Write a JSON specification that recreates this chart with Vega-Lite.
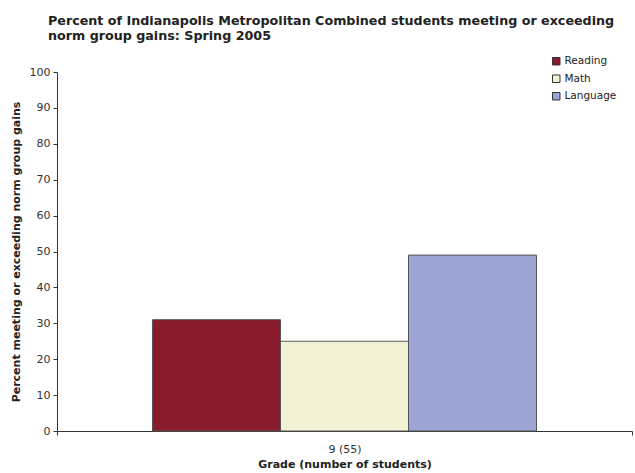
{
  "$schema": "https://vega.github.io/schema/vega-lite/v6.json",
  "autosize": {"type": "none"},
  "padding": {"left": 57, "top": 72, "right": 3, "bottom": 42},
  "width": 575,
  "height": 359,
  "background": "white",
  "config": {
    "font": "DejaVu Sans",
    "view": {"stroke": null},
    "axis": {"labelFont": "DejaVu Sans", "titleFont": "DejaVu Sans", "labelColor": "#333", "titleColor": "#222", "domainColor": "#333", "tickColor": "#333", "grid": false}
  },
  "title": {
    "text": ["Percent of Indianapolis Metropolitan Combined students meeting or exceeding", "norm group gains: Spring 2005"],
    "anchor": "start",
    "frame": "group",
    "fontSize": 12.7,
    "fontWeight": "bold",
    "color": "#222",
    "lineHeight": 15,
    "dx": -9,
    "dy": -9
  },
  "data": {
    "values": [
      {"grade": "9 (55)", "subject": "Reading", "pct": 31},
      {"grade": "9 (55)", "subject": "Math", "pct": 25},
      {"grade": "9 (55)", "subject": "Language", "pct": 49}
    ]
  },
  "mark": {"type": "bar", "stroke": "#555", "strokeWidth": 1},
  "encoding": {
    "x": {
      "field": "grade", "type": "nominal",
      "scale": {"paddingInner": 0, "paddingOuter": 0},
      "axis": {"title": "Grade (number of students)", "labelAngle": 0, "labelFontSize": 11, "titleFontSize": 11, "titleFontWeight": "bold", "tickBand": "extent", "tickSize": 4, "labelPadding": 8, "titlePadding": 4}
    },
    "xOffset": {
      "field": "subject", "type": "nominal",
      "sort": ["Reading", "Math", "Language"],
      "scale": {"paddingInner": 0, "paddingOuter": 0.746}
    },
    "y": {
      "field": "pct", "type": "quantitative",
      "scale": {"domain": [0, 100]},
      "axis": {"title": "Percent meeting or exceeding norm group gains", "values": [0,10,20,30,40,50,60,70,80,90,100], "labelFontSize": 11, "titleFontSize": 11, "titleFontWeight": "bold", "tickSize": 4, "labelPadding": 3, "titlePadding": 8}
    },
    "color": {
      "field": "subject", "type": "nominal",
      "sort": ["Reading", "Math", "Language"],
      "scale": {"domain": ["Reading", "Math", "Language"], "range": ["#8A1B2C", "#F4F2D4", "#9DA5D4"]},
      "legend": {"title": null, "orient": "none", "legendX": 494, "legendY": -16, "symbolType": "square", "symbolSize": 56, "symbolStrokeColor": "#333", "symbolStrokeWidth": 1, "labelFontSize": 10.5, "labelColor": "#222", "rowPadding": 5.5, "labelOffset": 3}
    }
  }
}
